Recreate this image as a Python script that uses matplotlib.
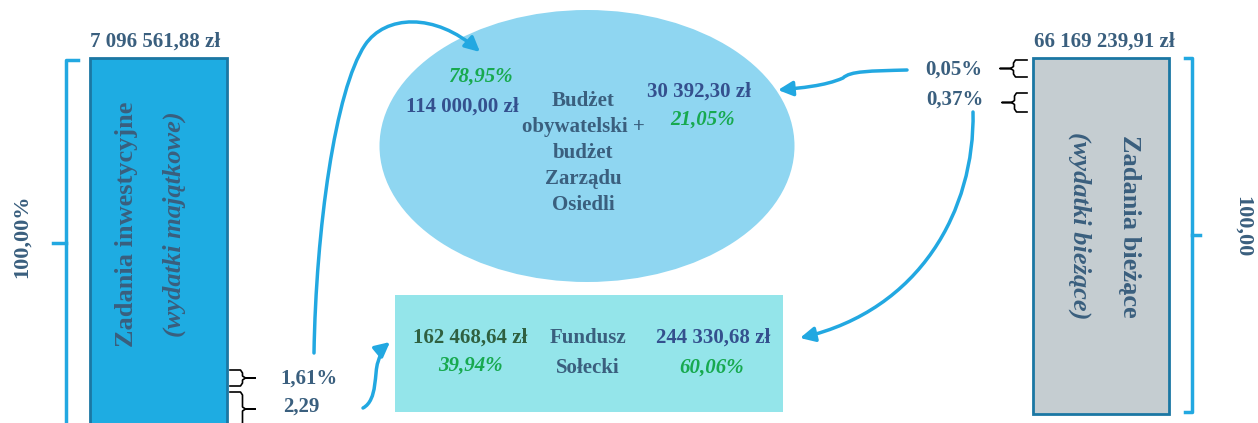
import matplotlib.pyplot as plt
from matplotlib.patches import Rectangle, Ellipse, FancyArrowPatch
from matplotlib.path import Path

# ---- data ----
totals = ['7 096 561,88 zł', '66 169 239,91 zł']
box_titles = ['Zadania inwestycyjne', 'Zadania bieżące']
box_subtitles = ['(wydatki majątkowe)', '(wydatki bieżące)']
share_total = ['100,00%', '100,00']
left_shares = ['1,61%', '2,29']
right_shares = ['0,05%', '0,37%']

bo_title = ['Budżet', 'obywatelski +', 'budżet', 'Zarządu', 'Osiedli']
bo_amounts = ['114 000,00 zł', '30 392,30 zł']
bo_pct = ['78,95%', '21,05%']

fs_title = ['Fundusz', 'Sołecki']
fs_amounts = ['162 468,64 zł', '244 330,68 zł']
fs_pct = ['39,94%', '60,06%']

# ---- colours ----
SLATE = '#3a5f7e'
NAVY = '#34508e'
GREEN = '#17a94f'
DKGREEN = '#2f6040'
ARROW = '#22a8e1'
FONT = 'Liberation Serif'

fig = plt.figure(figsize=(12.58, 4.23), dpi=100)
ax = fig.add_axes([0, 0, 1, 1])
ax.set_xlim(0, 1258)
ax.set_ylim(423, 0)
ax.axis('off')


def txt(x, y, s, color=SLATE, size=15, style='normal', rot=0):
    ax.text(x, y, s, ha='center', va='center', color=color, fontsize=size,
            fontweight='bold', fontstyle=style, rotation=rot, family=FONT)


def brace(x0, x1, y0, y1, left=True):
    # small black curly bracket, opening toward the box
    ym = (y0 + y1) / 2
    xm = (x0 + x1) / 2
    if left:
        pts = [(x0, y0), (xm - 2, y0), (xm, y0 + 3), (xm, ym - 2), (xm + 3, ym), (x1, ym),
               (xm + 3, ym), (xm, ym + 2), (xm, y1 - 3), (xm - 2, y1), (x0, y1)]
    else:
        pts = [(x1, y0), (xm + 2, y0), (xm, y0 + 3), (xm, ym - 2), (xm - 3, ym), (x0, ym),
               (xm - 3, ym), (xm, ym + 2), (xm, y1 - 3), (xm + 2, y1), (x1, y1)]
    xs, ys = zip(*pts)
    ax.plot(xs, ys, color='black', lw=1.2, clip_on=False)


def curve(verts, codes, head=True):
    p = Path(verts, codes)
    a = FancyArrowPatch(path=p, arrowstyle='-|>' if head else '-',
                        mutation_scale=22, color=ARROW, lw=2.5)
    ax.add_patch(a)


# ---- left block (investment) ----
ax.add_patch(Rectangle((90, 58), 137, 380, facecolor='#1eace2', edgecolor='#1b77a3', lw=2))
txt(155, 42, totals[0])
txt(126, 224, box_titles[0], size=19, rot=90)
txt(174, 224, box_subtitles[0], size=19, style='italic', rot=90)
ax.plot([78, 66, 66], [60, 60, 430], color=ARROW, lw=2.5, clip_on=False)
ax.plot([53, 66], [243, 243], color=ARROW, lw=2.5)
txt(22, 236, share_total[0], size=16, rot=90)
brace(230, 255, 370, 386, left=True)
brace(230, 255, 392, 426, left=True)
txt(309, 379, left_shares[0])
txt(301, 407, left_shares[1])

# ---- right block (current) ----
ax.add_patch(Rectangle((1033, 58), 136, 356, facecolor='#c5cdd1', edgecolor='#1b77a3', lw=2))
txt(1104, 42, totals[1])
txt(1130, 226, box_titles[1], size=19, rot=-90)
txt(1080, 226, box_subtitles[1], size=19, style='italic', rot=-90)
ax.plot([1185, 1192, 1192, 1185], [58, 58, 412, 412], color=ARROW, lw=2.5)
ax.plot([1192, 1200], [235, 235], color=ARROW, lw=2.5)
txt(1243, 227, share_total[1], size=16, rot=-90)
brace(1000, 1027, 60, 77, left=False)
brace(1002, 1027, 93, 112, left=False)
txt(954, 70, right_shares[0])
txt(955, 100, right_shares[1])

# ---- ellipse: civic budget ----
ax.add_patch(Ellipse((587, 146), 415, 272, facecolor='#8fd6f1', edgecolor='none'))
for i, line in enumerate(bo_title):
    txt(583, 101 + 26 * i, line)
txt(480, 77, bo_pct[0], color=GREEN, style='italic')
txt(462, 107, bo_amounts[0], color=NAVY)
txt(699, 92, bo_amounts[1], color=NAVY)
txt(703, 120, bo_pct[1], color=GREEN, style='italic')

# ---- box: village fund ----
ax.add_patch(Rectangle((395, 295), 388, 117, facecolor='#94e5ea', edgecolor='none'))
txt(588, 338, fs_title[0])
txt(588, 368, fs_title[1])
txt(470, 338, fs_amounts[0], color=DKGREEN)
txt(470, 366, fs_pct[0], color=GREEN, style='italic')
txt(713, 338, fs_amounts[1], color=NAVY)
txt(712, 368, fs_pct[1], color=GREEN, style='italic')

# ---- arrows ----
C4 = Path.CURVE4
curve([(314, 353), (316, 230), (335, 90), (365, 45), (385, 15), (435, 12), (480, 52)],
      [Path.MOVETO, C4, C4, C4, C4, C4, C4])
curve([(363, 408), (378, 400), (374, 372), (378, 362), (381, 352), (384, 347), (390, 342)],
      [Path.MOVETO, C4, C4, C4, C4, C4, C4])
curve([(907, 70), (870, 71), (850, 71), (843, 78), (825, 86), (800, 88), (778, 90)],
      [Path.MOVETO, C4, C4, C4, C4, C4, C4])
curve([(973, 112), (975, 210), (920, 310), (800, 338)],
      [Path.MOVETO, C4, C4, C4])

fig.savefig('out.png', dpi=100)
